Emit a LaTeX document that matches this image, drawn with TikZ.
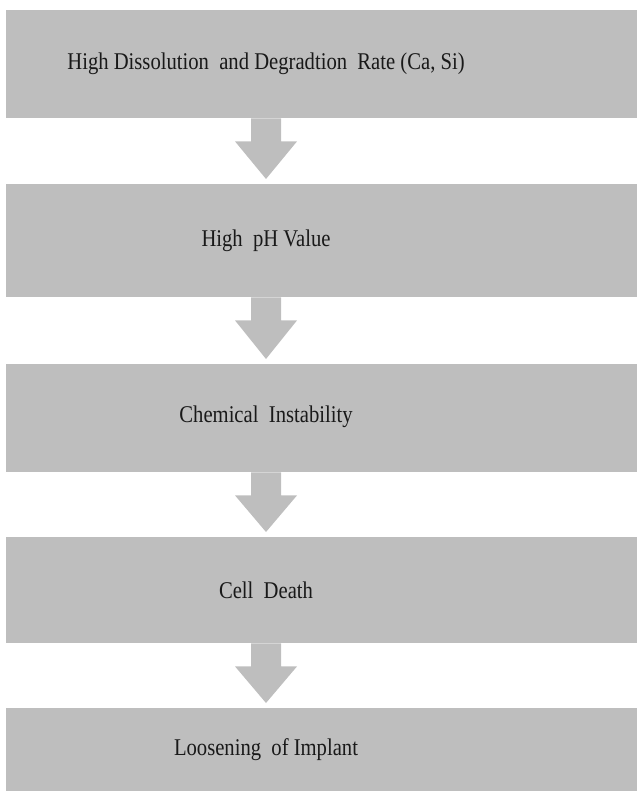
\documentclass[tikz,border=0pt]{standalone}
\usepackage{fontspec}
\setmainfont{Liberation Serif}
\usetikzlibrary{calc}
\definecolor{boxgray}{RGB}{190,190,190}
\definecolor{txt}{RGB}{25,25,25}
\tikzset{
  box/.style={fill=boxgray, draw=none, minimum width=631pt, inner sep=0pt, anchor=north west},
  lbl/.style={text=txt, font=\fontsize{24}{28}\selectfont, inner sep=0pt, xscale=0.86},
  blockarr/.style={fill=boxgray, draw=none}
}
\newcommand\blockarrow[3]{% from box, text node, to box
  \fill[blockarr] ($(#2 |- #1.south)+(-15,0)$) -- ($(#2 |- #1.south)+(15,0)$)
    -- ($(#2 |- #1.south)+(15,23)$) -- ($(#2 |- #1.south)+(31,23)$)
    -- ($(#2 |- #3.north)+(0,-5)$)
    -- ($(#2 |- #1.south)+(-31,23)$) -- ($(#2 |- #1.south)+(-15,23)$) -- cycle;
}
\begin{document}
\begin{tikzpicture}[x=1pt,y=-1pt]
\useasboundingbox (0,0) rectangle (637,791);
\node[box, minimum height=108pt] (b1) at (6,10) {};
\node[box, minimum height=113pt] (b2) at (6,184) {};
\node[box, minimum height=108pt] (b3) at (6,364) {};
\node[box, minimum height=106pt] (b4) at (6,537) {};
\node[box, minimum height=83pt] (b5) at (6,708) {};
\node[lbl] (t1) at (266,64) {High Dissolution\ \ and Degradtion\ \ Rate (Ca, Si)};
\node[lbl] (t2) at (266,241) {High\ \ pH Value};
\node[lbl] (t3) at (266,417) {Chemical\ \ Instability};
\node[lbl] (t4) at (266,590) {Cell\ \ Death};
\node[lbl] (t5) at (266,750) {Loosening\ \ of Implant};
\blockarrow{b1}{t1}{b2}
\blockarrow{b2}{t2}{b3}
\blockarrow{b3}{t3}{b4}
\blockarrow{b4}{t4}{b5}
\end{tikzpicture}
\end{document}
